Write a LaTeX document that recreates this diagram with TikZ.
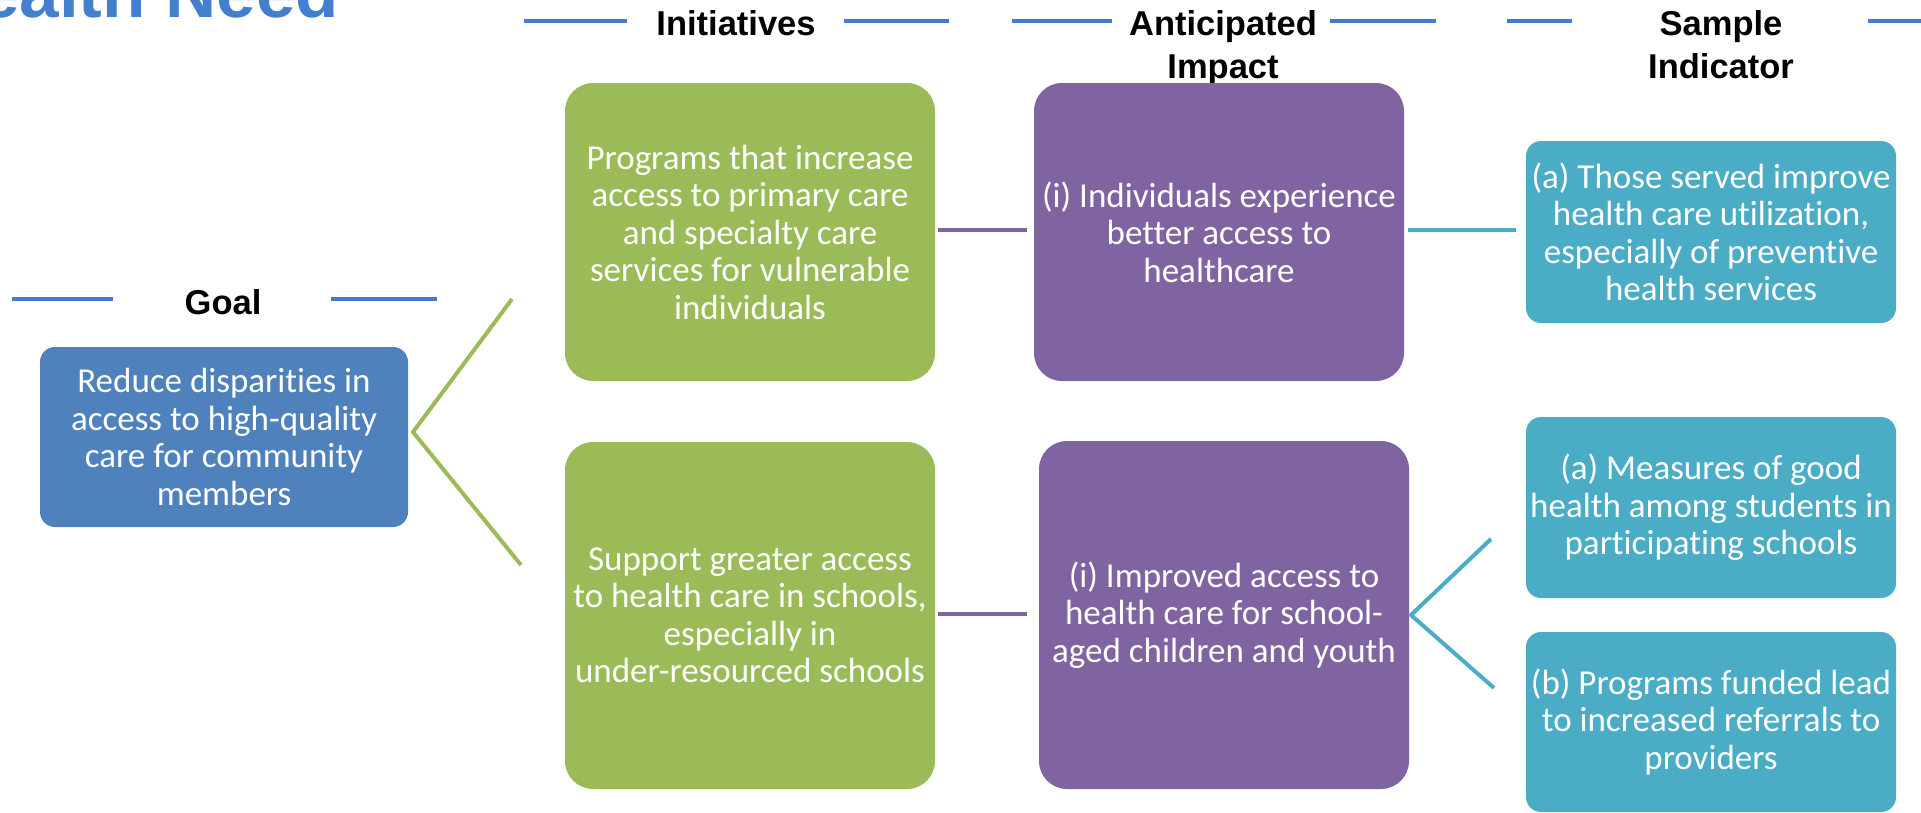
\documentclass[tikz,border=0pt]{standalone}
\usepackage{fontspec}
\setmainfont{Carlito}[Ligatures={NoCommon}]
\newfontfamily\hdrfont{Liberation Sans}
\definecolor{goalblue}{HTML}{4F81BD}
\definecolor{initgreen}{HTML}{9BBB59}
\definecolor{imppurple}{HTML}{8064A2}
\definecolor{indteal}{HTML}{4BACC6}
\definecolor{hdrline}{HTML}{447CC9}
\definecolor{titleblue}{HTML}{4280CF}
\tikzset{
  box/.style={rounded corners=#1, draw=none, text=white, align=center, inner sep=0pt,
    font=\fontsize{35}{37.5}\selectfont},
  hdr/.style={font=\hdrfont\bfseries\fontsize{34.5}{43}\selectfont, text=black, align=center, inner sep=0pt},
  hline/.style={draw=hdrline, line width=4pt},
  conn/.style={line width=4pt},
}
\begin{document}
\begin{tikzpicture}[x=1pt,y=-1pt]
\useasboundingbox (0,0) rectangle (1921,812);
\clip (0,0) rectangle (1921,812);

% title (cut off at top)
\node[anchor=base west, inner sep=0pt, text=titleblue,
  font=\hdrfont\bfseries\fontsize{71}{71}\selectfont] (title) at (-20,17) {ealth Need};

% headers
\node[hdr, anchor=base] (hgoal) at (223,314) {Goal};
\node[hdr, anchor=base] (hinit) at (736,35) {Initiatives};
\node[hdr, anchor=base] (himp) at (1223,78) {Anticipated\\Impact};
\node[hdr, anchor=base] (hind) at (1721,78) {Sample\\Indicator};

% header lines
\draw[hline] (12,299) -- (113,299);
\draw[hline] (331,299) -- (437,299);
\draw[hline] (524,21) -- (627,21);
\draw[hline] (844,21) -- (949,21);
\draw[hline] (1012,21) -- (1112,21);
\draw[hline] (1330,21) -- (1436,21);
\draw[hline] (1507,21) -- (1572,21);
\draw[hline] (1868,21) -- (1925,21);

% boxes
\node[box=15pt, fill=goalblue, minimum width=368pt, minimum height=180pt] (goal) at (224,437)
  {Reduce disparities in\\access to high-quality\\care for community\\members};
\node[box=28pt, fill=initgreen, minimum width=370pt, minimum height=298pt] (g1) at (750,232)
  {Programs that increase\\access to primary care\\and specialty care\\services for vulnerable\\individuals};
\node[box=28pt, fill=initgreen, minimum width=370pt, minimum height=347pt] (g2) at (750,615.5)
  {Support greater access\\to health care in schools,\\especially in\\under-resourced schools};
\node[box=28pt, fill=imppurple, minimum width=370pt, minimum height=298pt] (p1) at (1219,232)
  {(i) Individuals experience\\better access to\\healthcare};
\node[box=28pt, fill=imppurple, minimum width=370pt, minimum height=348pt] (p2) at (1224,615)
  {(i) Improved access to\\health care for school-\\aged children and youth};
\node[box=15pt, fill=indteal, minimum width=370pt, minimum height=182pt] (t1) at (1711,232)
  {(a) Those served improve\\health care utilization,\\especially of preventive\\health services};
\node[box=15pt, fill=indteal, minimum width=370pt, minimum height=181pt] (t2) at (1711,507.5)
  {(a) Measures of good\\health among students in\\participating schools};
\node[box=15pt, fill=indteal, minimum width=370pt, minimum height=180pt] (t3) at (1711,722)
  {(b) Programs funded lead\\to increased referrals to\\providers};

% connectors
\coordinate (gv) at (413,432);
\coordinate (gu) at (512,299);
\coordinate (gd) at (521,565);
\draw[conn, draw=initgreen] (gu) -- (gv) -- (gd);

\draw[conn, draw=imppurple] ([xshift=3pt]g1.east |- 0,230) -- ([xshift=-7pt]p1.west |- 0,230);
\draw[conn, draw=imppurple] ([xshift=3pt]g2.east |- 0,614) -- ([xshift=-12pt]p2.west |- 0,614);
\draw[conn, draw=indteal] ([xshift=4pt]p1.east |- 0,230) -- ([xshift=-10pt]t1.west |- 0,230);

\coordinate (tv) at (1411,615);
\coordinate (tu) at (1491,539);
\coordinate (td) at (1494,688);
\draw[conn, draw=indteal] (tu) -- (tv) -- (td);
\end{tikzpicture}
\end{document}
